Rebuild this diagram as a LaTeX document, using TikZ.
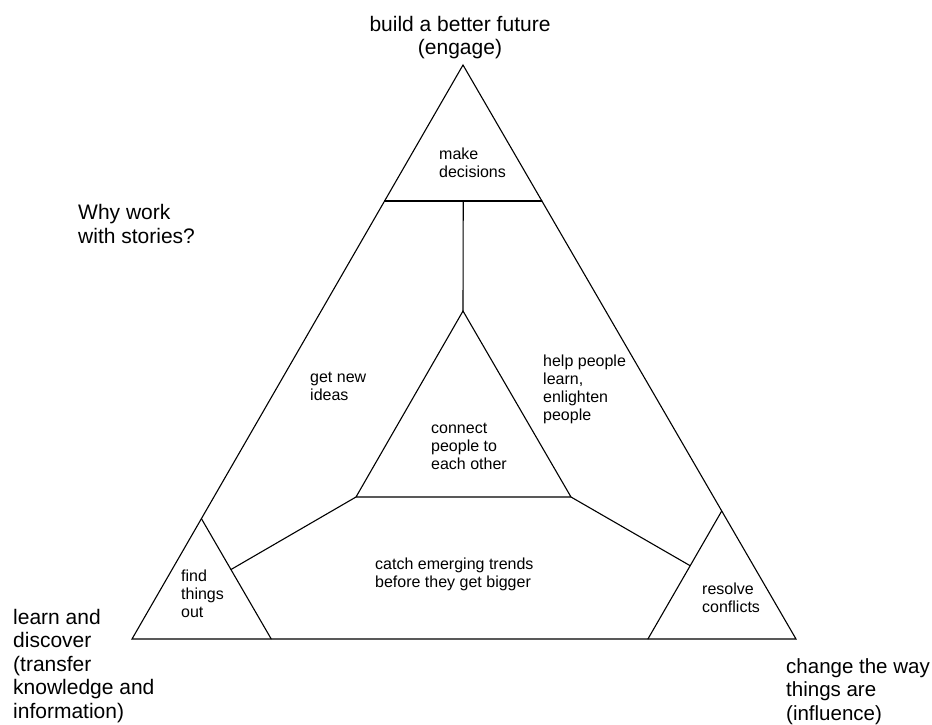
\documentclass[tikz,border=0pt]{standalone}
\usepackage{fontspec}
\setmainfont{Liberation Sans}
\usetikzlibrary{calc}
\begin{document}
\begin{tikzpicture}[x=1pt,y=-1pt,
  edge/.style={line width=1.1pt, line join=miter, line cap=round},
  big/.style={font=\fontsize{21}{23.4}\selectfont, inner sep=0pt, align=left, anchor=base west},
  small/.style={font=\fontsize{16}{18}\selectfont, inner sep=0pt, align=left, anchor=base west}]
\useasboundingbox (0,0) rectangle (932,725);

% outer triangle
\coordinate (A) at (463,65);
\coordinate (L) at (132,639);
\coordinate (R) at (796,639);
% corner triangles
\coordinate (TL) at ($(A)!0.237!(L)$);
\coordinate (TR) at ($(A)!0.237!(R)$);
\coordinate (TM) at ($(TL)!0.5!(TR)$);
\coordinate (FA) at ($(L)!0.2097!(A)$);
\coordinate (FR) at ($(L)!0.2097!(R)$);
\coordinate (RA) at ($(R)!0.223!(A)$);
\coordinate (RL) at ($(R)!0.223!(L)$);
% inner triangle
\coordinate (IA) at (463,311);
\coordinate (IL) at (356,497);
\coordinate (IR) at (571,497);
\coordinate (FX) at ($(FA)!(IL)!(FR)$);
\coordinate (RX) at ($(RA)!(IR)!(RL)$);

\draw[edge] (A) -- (L) -- (R) -- cycle;
\draw[edge] (TL) -- (TR);
\draw[edge] (FA) -- (FR);
\draw[edge] (RA) -- (RL);
\draw[edge] (IA) -- (IL) -- (IR) -- cycle;
\draw[edge] (TM) -- (IA);
\draw[edge] (IL) -- (FX);
\draw[edge] (IR) -- (RX);

% outer labels (anchored at the baseline of their last line)
\node[big, align=center, anchor=base] (engage) at (460,55) {build a better future\\(engage)};
\node[big] (why) at (78,243) {Why work\\with stories?};
\node[big] (learn) at (13,718) {learn and\\discover\\(transfer\\knowledge and\\information)};
\node[big, font=\fontsize{20.5}{23.4}\selectfont] (change) at (786,720) {change the way\\things are\\(influence)};

% inner labels
\node[small] (decide) at (439,177) {make\\decisions};
\node[small] (ideas) at (310,400) {get new\\ideas};
\node[small] (help) at (543,420) {help people\\learn,\\enlighten\\people};
\node[small] (connect) at (431,469) {connect\\people to\\each other};
\node[small] (trends) at (375,587) {catch emerging trends\\before they get bigger};
\node[small] (find) at (181,617) {find\\things\\out};
\node[small] (resolve) at (702,612) {resolve\\conflicts};
\end{tikzpicture}
\end{document}
